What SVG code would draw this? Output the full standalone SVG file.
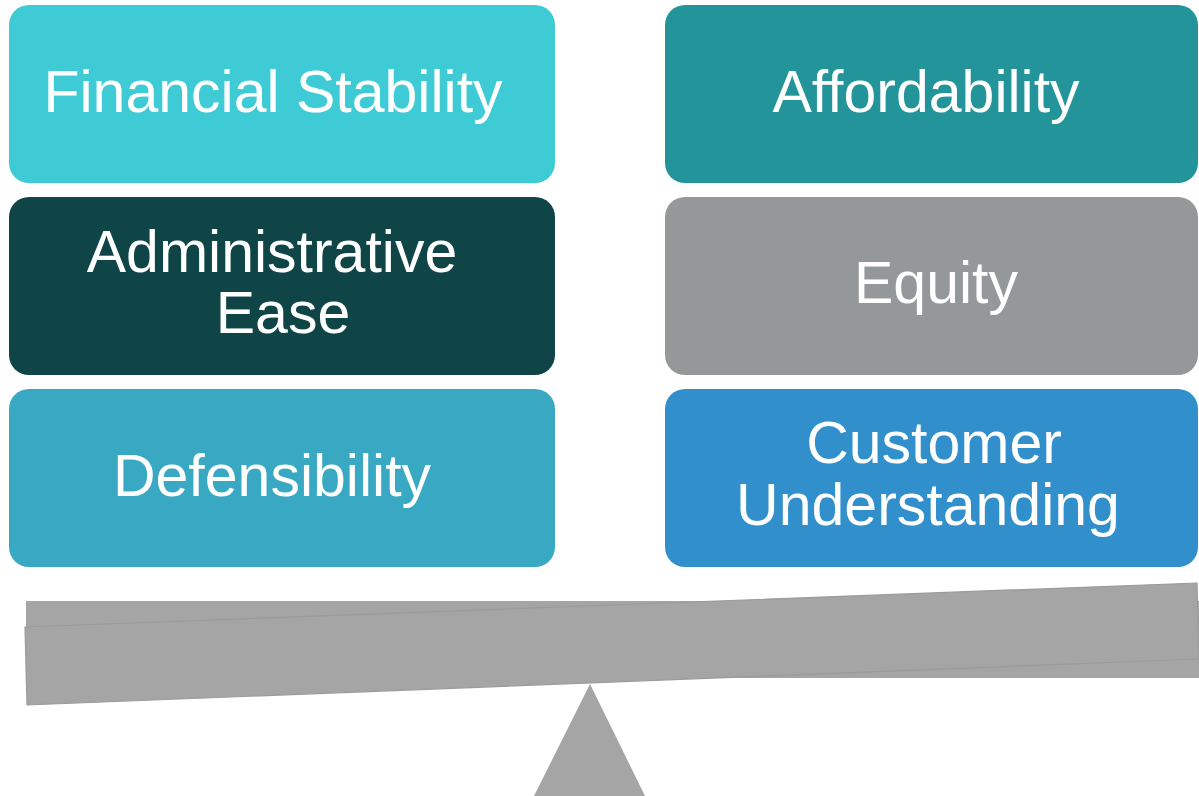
<svg xmlns="http://www.w3.org/2000/svg" width="1199" height="796" viewBox="0 0 1199 796">
  <style>
    .box { stroke: none; }
    .lbl { font-family: "Liberation Sans", Arial, sans-serif; font-size: 59px; fill: #ffffff; text-anchor: middle; }
    .beam { fill: #a5a5a5; }
    .beam-edge { fill: #a5a5a5; stroke: #9b9b9b; stroke-width: 1.2; stroke-linejoin: miter; }
  </style>

  <!-- left column -->
  <g id="financial-stability">
    <rect class="box" x="9" y="5" width="546" height="178" rx="20" fill="#3ecbd5"/>
    <text class="lbl" x="273" y="112">Financial Stability</text>
  </g>
  <g id="administrative-ease">
    <rect class="box" x="9" y="197" width="546" height="178" rx="20" fill="#0f4547"/>
    <text class="lbl" x="272" y="272">Administrative</text>
    <text class="lbl" x="283" y="333">Ease</text>
  </g>
  <g id="defensibility">
    <rect class="box" x="9" y="389" width="546" height="178" rx="20" fill="#39a8c2"/>
    <text class="lbl" x="272" y="496">Defensibility</text>
  </g>

  <!-- right column -->
  <g id="affordability">
    <rect class="box" x="665" y="5" width="533" height="178" rx="20" fill="#23959a"/>
    <text class="lbl" x="926" y="112">Affordability</text>
  </g>
  <g id="equity">
    <rect class="box" x="665" y="197" width="533" height="178" rx="20" fill="#959899"/>
    <text class="lbl" x="936" y="303">Equity</text>
  </g>
  <g id="customer-understanding">
    <rect class="box" x="665" y="389" width="533" height="178" rx="20" fill="#318fcb"/>
    <text class="lbl" x="934" y="463">Customer</text>
    <text class="lbl" x="928" y="525">Understanding</text>
  </g>

  <!-- seesaw: level beam, tilted beam and fulcrum -->
  <g id="seesaw">
    <rect class="beam" x="26" y="601" width="1180" height="77"/>
    <polygon class="beam-edge" points="25,627 1197,583 1199,659 27,705"/>
    <polygon class="beam" points="590,684 645,796 534,796"/>
  </g>
</svg>
